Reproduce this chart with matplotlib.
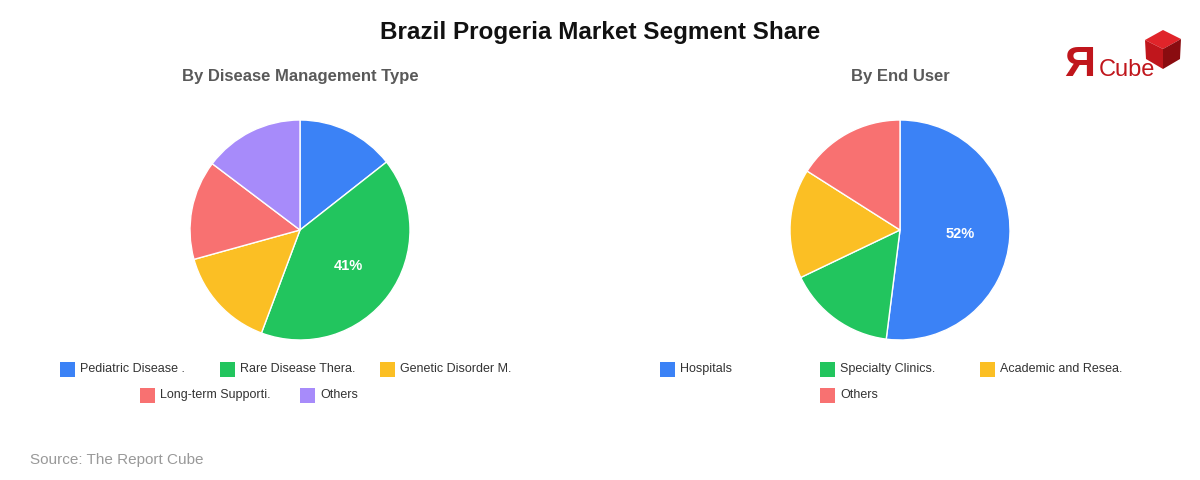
import matplotlib.pyplot as plt
from matplotlib.patches import Rectangle, Polygon

plt.rcParams['font.family'] = ['Liberation Sans', 'DejaVu Sans']

# data
title = 'Brazil Progeria Market Segment Share'
left_title = 'By Disease Management Type'
left_labels = ['Pediatric Disease .', 'Rare Disease Thera.', 'Genetic Disorder M.',
               'Long-term Supporti.', 'Others']
left_values = [14.4, 41.3, 15.0, 14.6, 14.7]

right_title = 'By End User'
right_labels = ['Hospitals', 'Specialty Clinics.', 'Academic and Resea.', 'Others']
right_values = [52.0, 15.9, 16.1, 16.0]

colors = ['#3b82f6', '#22c55e', '#fbbf24', '#f87171', '#a78bfa']

W, H = 1200, 480
fig = plt.figure(figsize=(12, 4.8), dpi=100)

# overlay axes in pixel coords for text and decorations
ov = fig.add_axes([0, 0, 1, 1])
ov.set_xlim(0, W)
ov.set_ylim(H, 0)
ov.axis('off')


def draw_pie(cx, cy, r, values, subtitle):
    ax = fig.add_axes([(cx - r) / W, (H - cy - r) / H, 2 * r / W, 2 * r / H])
    def fmt(p):
        return '%d%%' % round(p) if p >= 30 else ''
    wedges, texts, autotexts = ax.pie(values, colors=colors[:len(values)], startangle=90,
                                      counterclock=False, autopct=fmt, pctdistance=0.55,
                                      wedgeprops=dict(edgecolor='white', linewidth=1))
    for t in autotexts:
        t.set_color('white')
        t.set_fontweight('bold')
        t.set_fontsize(10.5)
    ax.set_xlim(-1, 1)
    ax.set_ylim(-1, 1)
    ax.set_aspect('equal')
    ov.text(cx, 77, subtitle, ha='center', va='center', fontsize=12,
            fontweight='bold', color='#595959')


def draw_legend(items, positions):
    for (lab, col), (x, y) in zip(items, positions):
        ov.add_patch(Rectangle((x, y - 7.5), 15, 15, facecolor=col, edgecolor='none'))
        ov.text(x + 20, y, lab, ha='left', va='center', fontsize=9, color='#333333')


draw_pie(300, 230, 110, left_values, left_title)
draw_pie(900, 230, 110, right_values, right_title)

draw_legend(zip(left_labels, colors),
            [(60, 369), (220, 369), (380, 369), (140, 395), (300, 395)])
draw_legend(zip(right_labels, colors),
            [(660, 369), (820, 369), (980, 369), (820, 395)])

ov.text(600, 33, title, ha='center', va='center', fontsize=17.5, fontweight='bold',
        color='#111111')
ov.text(30, 460, 'Source: The Report Cube', ha='left', va='center', fontsize=11,
        color='#999999')

# logo
ov.text(1064, 76, 'Я', ha='left', va='baseline', fontsize=31, color='#c0161c',
        fontweight='bold')
ov.text(1099, 76, 'Cube', ha='left', va='baseline', fontsize=17, color='#c0161c')
ov.add_patch(Polygon([(1145, 40), (1163, 30), (1181, 39), (1163, 49)],
                     facecolor='#e0242a', edgecolor='none'))
ov.add_patch(Polygon([(1145, 40), (1163, 49), (1163, 69), (1146, 59)],
                     facecolor='#c0161c', edgecolor='none'))
ov.add_patch(Polygon([(1163, 49), (1181, 39), (1180, 59), (1163, 69)],
                     facecolor='#8a0c10', edgecolor='none'))

fig.savefig('out.png', dpi=100, facecolor='white')
